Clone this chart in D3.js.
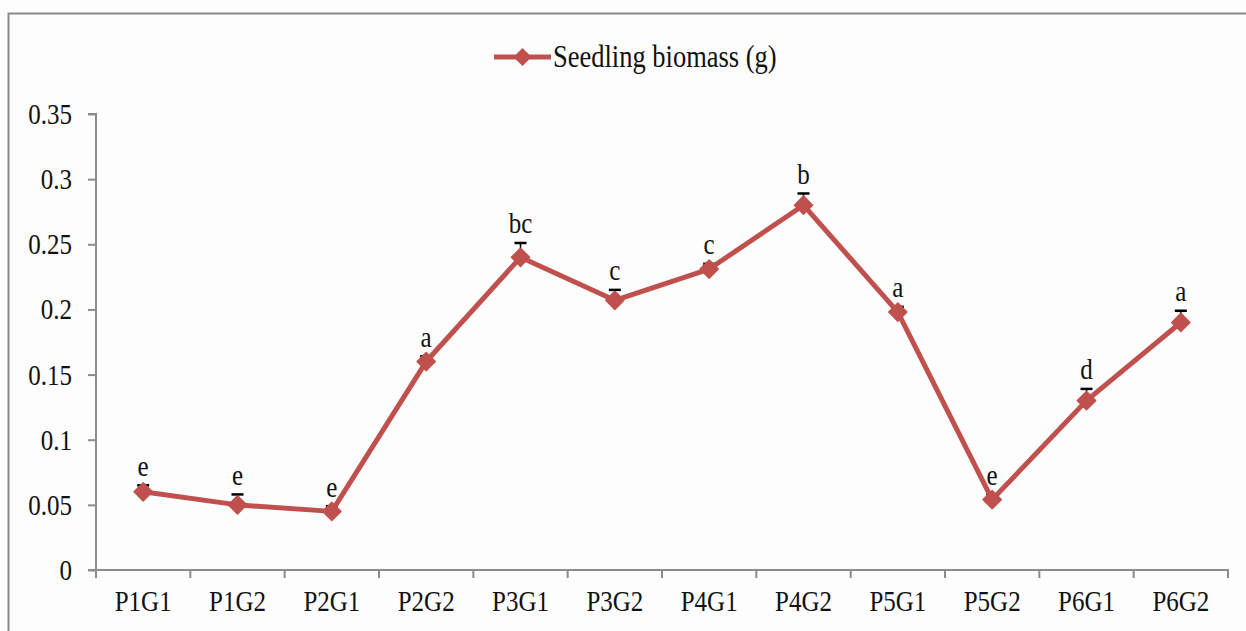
<!DOCTYPE html>
<html>
<head>
<meta charset="utf-8">
<script src="https://cdn.jsdelivr.net/npm/d3@7"></script>
<style>
  html, body { margin: 0; padding: 0; background: #ffffff; }
  svg { display: block; }
  /* the serif labels are set slightly tall */
  svg text { transform-box: fill-box; transform-origin: center; transform: scaleY(1.18); }
</style>
</head>
<body>
<div id="chart"></div>
<script>
// Seedling biomass per treatment, with standard error and significance letters
const categories = ["P1G1", "P1G2", "P2G1", "P2G2", "P3G1", "P3G2", "P4G1", "P4G2", "P5G1", "P5G2", "P6G1", "P6G2"];
const biomass    = [0.060, 0.050, 0.045, 0.160, 0.240, 0.207, 0.231, 0.280, 0.198, 0.054, 0.130, 0.190];
const stdError   = [0.005, 0.008, 0.004, 0.004, 0.011, 0.008, 0.004, 0.009, 0.004, 0.004, 0.009, 0.009];
const letters    = ["e", "e", "e", "a", "bc", "c", "c", "b", "a", "e", "d", "a"];
const yTicks     = [0, 0.05, 0.1, 0.15, 0.2, 0.25, 0.3, 0.35];
const seriesName = "Seedling biomass (g)";

const W = 1246, H = 631;
const margin = { left: 96, right: 18, top: 114, bottom: 61 };
const lineColor = "#c0504d";
const axisColor = "#8c8c8c";
const font = "'Liberation Serif', 'Times New Roman', serif";
const fontSize = 25;

const svg = d3.select("#chart").append("svg")
  .attr("width", W).attr("height", H);

svg.append("rect").attr("width", W).attr("height", H).attr("fill", "#fdfdfd");

// chart frame (left and top edges visible)
svg.append("path")
  .attr("d", `M8.5,${H} V13.5 H${W}`)
  .attr("fill", "none").attr("stroke", "#8a8a8a").attr("stroke-width", 2);

const x = d3.scaleBand().domain(categories)
  .range([margin.left, W - margin.right]).padding(0);
const y = d3.scaleLinear().domain([0, 0.35])
  .range([H - margin.bottom, margin.top]);

// y axis
const yAxis = svg.append("g")
  .attr("transform", `translate(${margin.left},0)`)
  .call(d3.axisLeft(y).tickValues(yTicks).tickSize(8).tickPadding(16)
    .tickFormat(d => d === 0 ? "0" : String(+d.toFixed(2))));
yAxis.select(".domain").attr("stroke", axisColor).attr("stroke-width", 2)
  .attr("d", `M-8,${y(0.35)}H0V${y(0)}H-8`);
yAxis.selectAll(".tick line").attr("stroke", axisColor).attr("stroke-width", 2);
yAxis.selectAll(".tick text").attr("font-family", font).attr("font-size", fontSize)
  .attr("fill", "#111");

// x axis, ticks sit between categories
const xAxis = svg.append("g")
  .attr("transform", `translate(0,${y(0)})`)
  .call(d3.axisBottom(x).tickSize(0).tickPadding(22));
xAxis.select(".domain").attr("stroke", axisColor).attr("stroke-width", 2)
  .attr("d", `M${x.range()[0]},0H${x.range()[1]}V8`);
xAxis.selectAll(".tick text").attr("font-family", font).attr("font-size", fontSize)
  .attr("fill", "#111");
xAxis.selectAll(".sep").data(categories).join("line")
  .attr("class", "sep")
  .attr("x1", d => x(d)).attr("x2", d => x(d))
  .attr("y1", 0).attr("y2", 8)
  .attr("stroke", axisColor).attr("stroke-width", 2);

const cx = d => x(d) + x.bandwidth() / 2;
const pts = categories.map((c, i) => ({ c, v: biomass[i], e: stdError[i], l: letters[i] }));

// error bars (upper half)
const eb = svg.append("g");
eb.selectAll("line.stem").data(pts).join("line").attr("class", "stem")
  .attr("x1", d => cx(d.c)).attr("x2", d => cx(d.c))
  .attr("y1", d => y(d.v)).attr("y2", d => y(d.v + d.e))
  .attr("stroke", "#000").attr("stroke-width", 1.5);
eb.selectAll("line.cap").data(pts).join("line").attr("class", "cap")
  .attr("x1", d => cx(d.c) - 6).attr("x2", d => cx(d.c) + 6)
  .attr("y1", d => y(d.v + d.e)).attr("y2", d => y(d.v + d.e))
  .attr("stroke", "#000").attr("stroke-width", 2.5);

// series line
svg.append("path")
  .datum(pts)
  .attr("d", d3.line().x(d => cx(d.c)).y(d => y(d.v)))
  .attr("fill", "none").attr("stroke", lineColor).attr("stroke-width", 5)
  .attr("stroke-linejoin", "round");

// diamond markers
const diamond = d3.symbol().type(d3.symbolDiamond2).size(210);
svg.append("g").selectAll("path").data(pts).join("path")
  .attr("transform", d => `translate(${cx(d.c)},${y(d.v)})`)
  .attr("d", diamond)
  .attr("fill", lineColor).attr("stroke", lineColor).attr("stroke-width", 1.5)
  .attr("stroke-linejoin", "round");

// significance letters
svg.append("g").selectAll("text").data(pts).join("text")
  .attr("x", d => cx(d.c))
  .attr("y", d => y(d.v + d.e) - 11)
  .attr("text-anchor", "middle")
  .attr("font-family", font).attr("font-size", fontSize)
  .attr("fill", "#111")
  .text(d => d.l);

// legend
const lg = svg.append("g").attr("transform", "translate(494,57)");
lg.append("line").attr("x1", 0).attr("x2", 57).attr("y1", 0).attr("y2", 0)
  .attr("stroke", lineColor).attr("stroke-width", 5);
lg.append("path").attr("transform", "translate(28.5,0)").attr("d", diamond)
  .attr("fill", lineColor);
lg.append("text").attr("x", 59).attr("y", 8)
  .attr("font-family", font).attr("font-size", 26.5).attr("fill", "#111")
  .text(seriesName);
</script>
</body>
</html>
